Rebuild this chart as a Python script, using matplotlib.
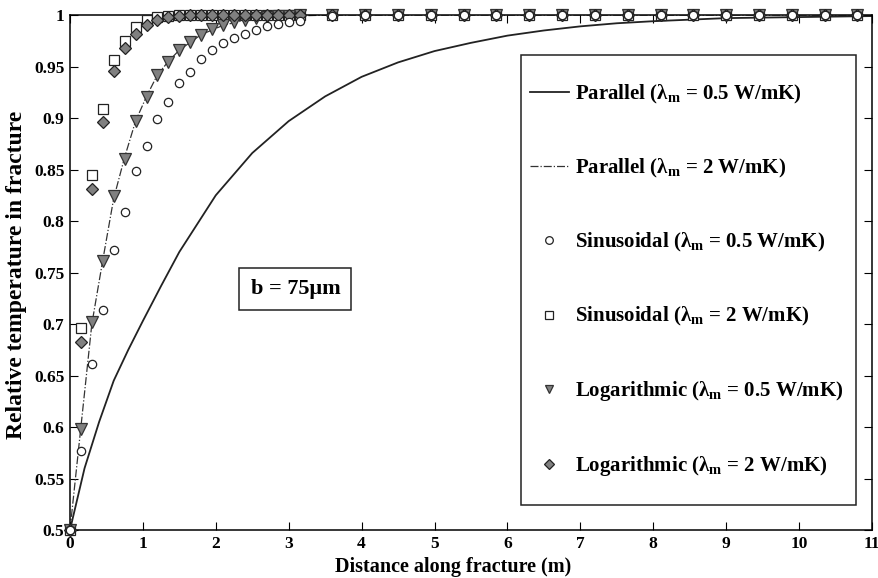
import matplotlib
matplotlib.use('Agg')
import matplotlib.pyplot as plt
from matplotlib.patches import Rectangle

plt.rcParams['font.family'] = ['Liberation Serif', 'DejaVu Serif']
plt.rcParams['font.weight'] = 'bold'
plt.rcParams['mathtext.fontset'] = 'custom'
plt.rcParams['mathtext.rm'] = 'Liberation Serif:bold'
plt.rcParams['mathtext.it'] = 'Liberation Serif:bold'

# marker positions along the fracture (m)
x_pts = [0, 0.15, 0.3, 0.45, 0.6, 0.75, 0.9, 1.05, 1.2, 1.35, 1.5, 1.65, 1.8, 1.95,
         2.1, 2.25, 2.4, 2.55, 2.7, 2.85, 3.0, 3.15,
         3.6, 4.05, 4.5, 4.95, 5.4, 5.85, 6.3, 6.75, 7.2, 7.65, 8.1, 8.55, 9.0,
         9.45, 9.9, 10.35, 10.8]

sin_05 = [0.5, 0.577, 0.661, 0.714, 0.772, 0.809, 0.849, 0.873, 0.899, 0.916, 0.934,
          0.945, 0.957, 0.966, 0.973, 0.978, 0.982, 0.985, 0.989, 0.991, 0.993, 0.994,
          0.999, 1, 1, 1, 1, 1, 1, 1, 1, 1, 1, 1, 1, 1, 1, 1, 1]
sin_2 = [0.5, 0.696, 0.845, 0.909, 0.956, 0.975, 0.988, 0.995, 0.998, 0.999, 1,
         1, 1, 1, 1, 1, 1, 1, 1, 1, 1, 1,
         1, 1, 1, 1, 1, 1, 1, 1, 1, 1, 1, 1, 1, 1, 1, 1, 1]
log_05 = [0.5, 0.598, 0.702, 0.761, 0.824, 0.860, 0.897, 0.920, 0.942, 0.954, 0.966,
          0.974, 0.981, 0.986, 0.990, 0.993, 0.995, 0.997, 0.998, 0.999, 0.999, 1,
          1, 1, 1, 1, 1, 1, 1, 1, 1, 1, 1, 1, 1, 1, 1, 1, 1]
log_2 = [0.5, 0.683, 0.831, 0.896, 0.946, 0.968, 0.982, 0.990, 0.995, 0.998, 0.999,
         1, 1, 1, 1, 1, 1, 1, 1, 1, 1, 1,
         1, 1, 1, 1, 1, 1, 1, 1, 1, 1, 1, 1, 1, 1, 1, 1, 1]

# parallel plate curves
par05_x = [0, 0.2, 0.4, 0.6, 0.8, 1.0, 1.25, 1.5, 2.0, 2.5, 3.0, 3.5, 4.0, 4.5, 5.0,
           5.5, 6.0, 6.5, 7.0, 7.5, 8.0, 9.0, 10.0, 11.0]
par05_y = [0.5, 0.56, 0.605, 0.645, 0.675, 0.703, 0.737, 0.77, 0.825, 0.866, 0.897,
           0.921, 0.94, 0.954, 0.965, 0.973, 0.98, 0.985, 0.989, 0.992, 0.994, 0.997,
           0.998, 0.999]
par2_x = [0, 0.15, 0.3, 0.45, 0.6, 0.75, 0.9, 1.05, 1.2, 1.35, 1.5, 1.8, 2.1, 2.4,
          2.7, 3.0, 3.6, 11.0]
par2_y = [0.5, 0.6, 0.7, 0.762, 0.822, 0.862, 0.897, 0.921, 0.942, 0.955, 0.966,
          0.981, 0.99, 0.995, 0.998, 0.999, 1.0, 1.0]

fig = plt.figure(figsize=(8.79, 5.78), dpi=100)
ax = fig.add_axes([0.0796, 0.083, 0.9124, 0.891])

lbl = [r'Parallel (λ$_{\rm m}$ = 0.5 W/mK)',
       r'Parallel (λ$_{\rm m}$ = 2 W/mK)',
       r'Sinusoidal (λ$_{\rm m}$ = 0.5 W/mK)',
       r'Sinusoidal (λ$_{\rm m}$ = 2 W/mK)',
       r'Logarithmic (λ$_{\rm m}$ = 0.5 W/mK)',
       r'Logarithmic (λ$_{\rm m}$ = 2 W/mK)']

ax.plot(par05_x, par05_y, '-', color='#222222', lw=1.3, label=lbl[0])
ax.plot(par2_x, par2_y, '-.', color='#333333', lw=0.9, label=lbl[1])
ax.plot(x_pts, sin_05, 'o', ls='none', mfc='white', mec='#222222', ms=6, mew=0.9,
        label=lbl[2], zorder=6, clip_on=False)
ax.plot(x_pts, sin_2, 's', ls='none', mfc='white', mec='#222222', ms=7, mew=0.9,
        label=lbl[3], zorder=3, clip_on=False)
ax.plot(x_pts, log_05, 'v', ls='none', mfc='#808080', mec='#333333', ms=9, mew=0.9,
        label=lbl[4], zorder=4, clip_on=False)
ax.plot(x_pts, log_2, 'D', ls='none', mfc='#808080', mec='#222222', ms=6, mew=0.9,
        label=lbl[5], zorder=5, clip_on=False)

ax.set_xlim(0, 11)
ax.set_ylim(0.5, 1)
ax.set_xticks(range(0, 12))
yt = [0.5, 0.55, 0.6, 0.65, 0.7, 0.75, 0.8, 0.85, 0.9, 0.95, 1.0]
ax.set_yticks(yt)
ax.set_yticklabels(['0.5', '0.55', '0.6', '0.65', '0.7', '0.75', '0.8', '0.85',
                    '0.9', '0.95', '1'])
ax.tick_params(direction='in', top=True, right=True, labelsize=12.5, length=6, pad=4)
for s in ax.spines.values():
    s.set_linewidth(1.1)

ax.set_xlabel('Distance along fracture (m)', fontsize=14.5, fontweight='bold')
ax.set_ylabel('Relative temperature in fracture', fontsize=17, fontweight='bold')
ax.xaxis.set_label_coords(0.478, -0.052)
ax.yaxis.set_label_coords(-0.053, 0.495)

ax.text(3.093, 0.734, 'b = 75μm', fontsize=16, fontweight='bold', ha='center', va='center',
        bbox=dict(boxstyle='square,pad=0.5', fc='white', ec='#222222', lw=1.1))

# legend frame drawn separately so entries can sit where they do in the figure
ax.add_patch(Rectangle((0.563, 0.0485), 0.4175, 0.8738, transform=ax.transAxes,
                       fc='white', ec='#222222', lw=1.1, zorder=7))
leg = ax.legend(loc='center left', bbox_to_anchor=(0.5736, 0.484), fontsize=15,
                labelspacing=2.45, borderpad=0, handlelength=1.85, handletextpad=0.3,
                frameon=False, borderaxespad=0)
leg.set_zorder(8)
for h, m in zip(leg.legend_handles[2:], [5.5, 6, 6, 5]):
    h.set_markersize(m)

fig.savefig('out.png', dpi=100)
